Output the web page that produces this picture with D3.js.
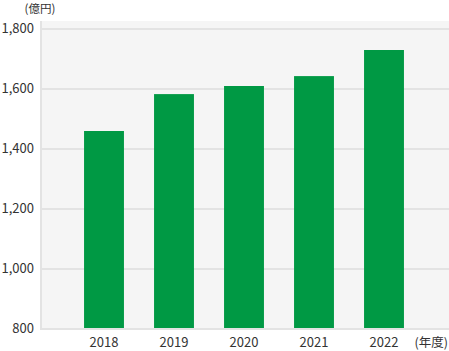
<!DOCTYPE html>
<html>
<head>
<meta charset="utf-8">
<script src="https://cdn.jsdelivr.net/npm/d3@7"></script>
<style>
  body { margin: 0; background: #fff; }
  text { font-family: "Noto Sans CJK JP", "Noto Sans", sans-serif; fill: #333; }
</style>
</head>
<body>
<div id="chart"></div>
<script>
// Data
const years = ["2018", "2019", "2020", "2021", "2022"];
const sales = [1460, 1583, 1610, 1643, 1730];
const yTicks = [800, 1000, 1200, 1400, 1600, 1800];

const W = 449, H = 351;
const PLOT = { left: 40, top: 21, right: 449, bottom: 329 };

const svg = d3.select("#chart").append("svg")
  .attr("width", W)
  .attr("height", H);

// Scales
const y = d3.scaleLinear().domain([800, 1800]).range([329, 29]);
const x = d3.scaleBand()
  .domain(years)
  .range([69, 419])
  .paddingInner(0.43)
  .paddingOuter(0.215);

// Plot background
svg.append("rect")
  .attr("x", PLOT.left)
  .attr("y", PLOT.top)
  .attr("width", PLOT.right - PLOT.left)
  .attr("height", PLOT.bottom - PLOT.top)
  .attr("fill", "#f5f5f5");

// Gridlines
svg.append("g")
  .selectAll("line")
  .data(yTicks.slice(1))
  .join("line")
  .attr("x1", PLOT.left)
  .attr("x2", PLOT.right)
  .attr("y1", d => y(d))
  .attr("y2", d => y(d))
  .attr("stroke", "#e3e3e3")
  .attr("stroke-width", 2);

// Bars
svg.append("g")
  .selectAll("rect")
  .data(sales)
  .join("rect")
  .attr("x", (d, i) => x(years[i]))
  .attr("y", d => y(d))
  .attr("width", x.bandwidth())
  .attr("height", d => y(800) - y(d))
  .attr("fill", "#009944");

// Axis lines
svg.append("line")
  .attr("x1", PLOT.left + 1).attr("x2", PLOT.left + 1)
  .attr("y1", PLOT.top).attr("y2", PLOT.bottom)
  .attr("stroke", "#e3e3e3").attr("stroke-width", 2);
svg.append("line")
  .attr("x1", PLOT.left).attr("x2", PLOT.right)
  .attr("y1", y(800)).attr("y2", y(800))
  .attr("stroke", "#e3e3e3").attr("stroke-width", 2);

// Y labels
svg.append("g")
  .selectAll("text")
  .data(yTicks)
  .join("text")
  .attr("x", 34)
  .attr("y", d => y(d) + 4)
  .attr("text-anchor", "end")
  .attr("font-size", "13px")
  .text(d => d3.format(",")(d));

// X labels
svg.append("g")
  .selectAll("text")
  .data(years)
  .join("text")
  .attr("x", d => x(d) + x.bandwidth() / 2)
  .attr("y", 347)
  .attr("text-anchor", "middle")
  .attr("font-size", "13px")
  .text(d => d);

// Units
svg.append("text")
  .attr("x", 40)
  .attr("y", 13)
  .attr("text-anchor", "middle")
  .attr("font-size", "11.5px")
  .text("(億円)");

svg.append("text")
  .attr("x", 448)
  .attr("y", 347)
  .attr("text-anchor", "end")
  .attr("font-size", "12.5px")
  .text("(年度)");
</script>
</body>
</html>
